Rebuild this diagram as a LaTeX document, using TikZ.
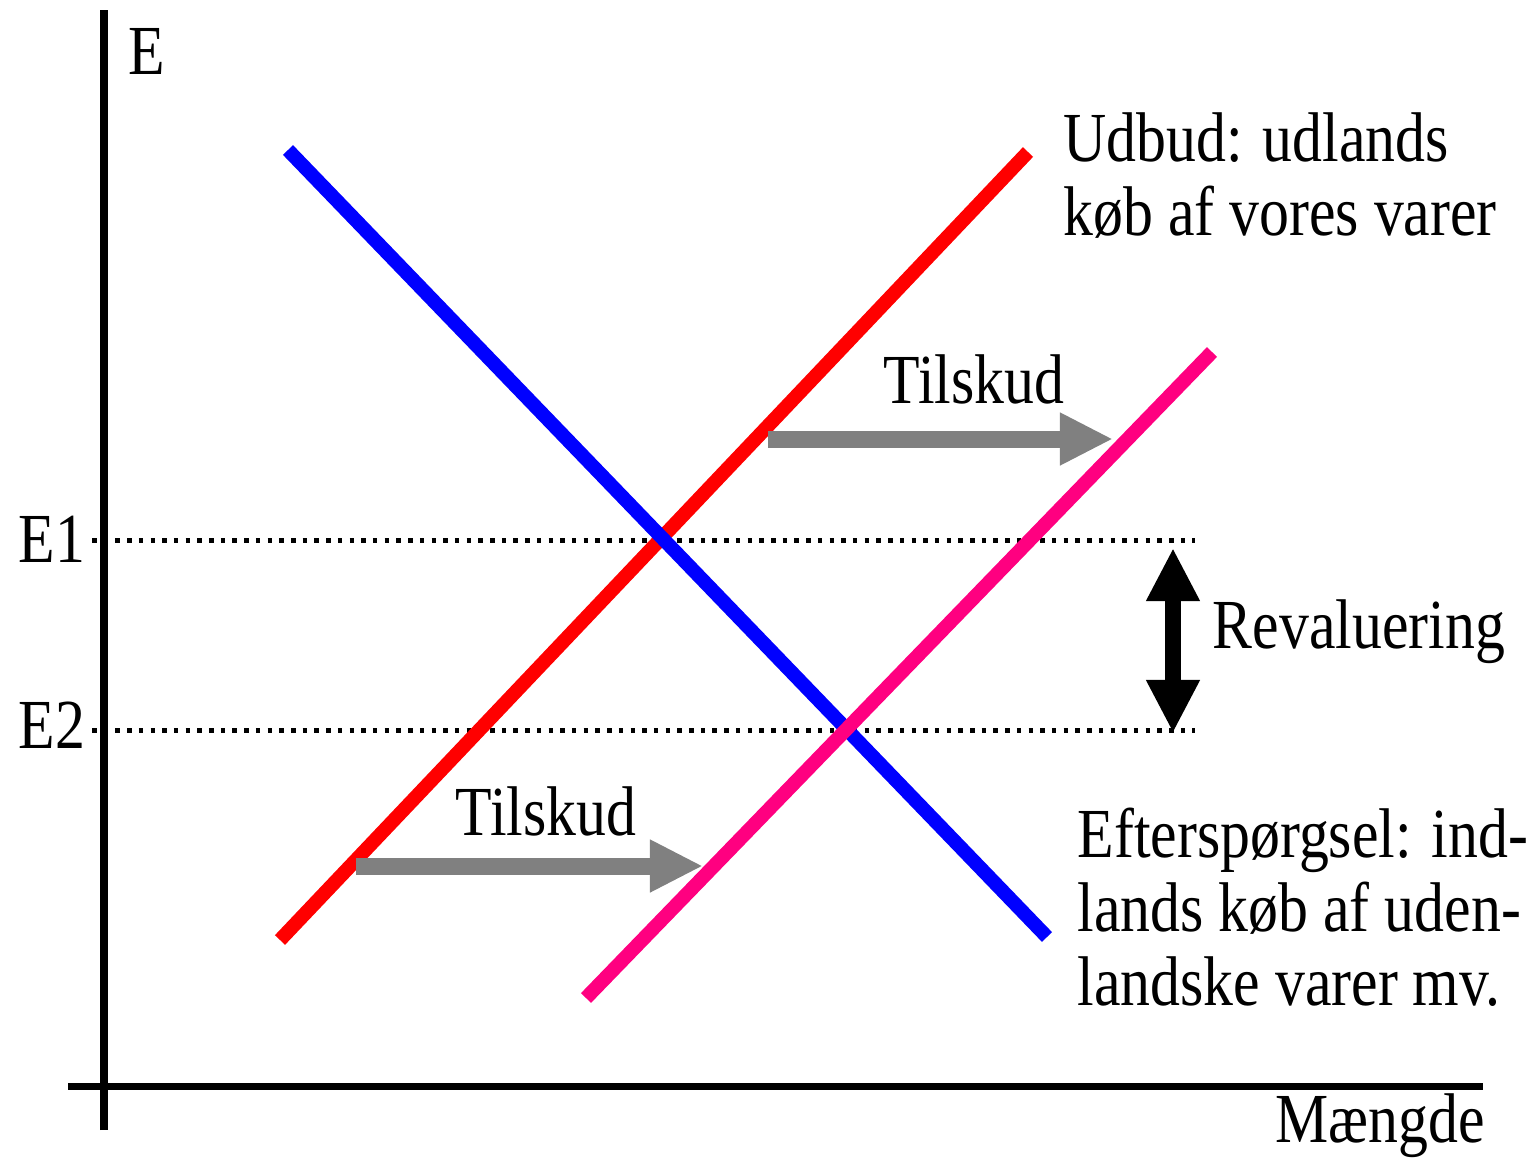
\documentclass[tikz,border=0pt]{standalone}
\usepackage{fontspec}
\setmainfont{Liberation Serif}[FakeStretch=0.85]
\usetikzlibrary{arrows.meta}
\definecolor{supred}{RGB}{255,0,0}
\definecolor{demblue}{RGB}{0,0,255}
\definecolor{newpink}{RGB}{255,0,128}
\definecolor{shiftgray}{RGB}{128,128,128}
\begin{document}
\begin{tikzpicture}[x=0.01cm,y=-0.01cm,
  lbl/.style={inner sep=0pt,anchor=base west,font=\fontsize{20}{21}\selectfont,align=left},
  axisline/.style={line width=0.07cm,black},
  curveline/.style={line width=0.14cm,line cap=butt},
  levelline/.style={line width=0.05cm,dash pattern=on 0.045cm off 0.072cm},
  shiftarrow/.style={shiftgray,line width=0.17cm,-{Triangle[length=0.53cm,width=0.49cm]}},
  revalarrow/.style={black,line width=0.16cm,{Triangle[length=0.53cm,width=0.5cm]}-{Triangle[length=0.53cm,width=0.5cm]}}
]
\useasboundingbox (0,0) rectangle (1535,1166);
% axes
\coordinate (ytop) at (104,10);
\coordinate (ybot) at (104,1130);
\coordinate (xl) at (68,1086);
\coordinate (xr) at (1483,1086);
\draw[axisline] (ybot) -- (ytop);
\draw[axisline] (xl) -- (xr);
% level lines
\coordinate (e1a) at (92,540);
\coordinate (e1b) at (1195,540);
\coordinate (e2a) at (92,730);
\coordinate (e2b) at (1195,730);
\draw[levelline] (e1a) -- (e1b);
\draw[levelline] (e2a) -- (e2b);
% curves
\coordinate (s1a) at (280,940);
\coordinate (s1b) at (1028,152);
\coordinate (s2a) at (586,998);
\coordinate (s2b) at (1212,352);
\coordinate (da) at (288,150);
\coordinate (db) at (1047,937);
\draw[curveline,supred] (s1a) -- (s1b);
\draw[curveline,demblue] (da) -- (db);
\draw[curveline,newpink] (s2a) -- (s2b);
% shift arrows
\coordinate (t1a) at (768,439);
\coordinate (t1b) at (1113,439);
\coordinate (t2a) at (356,866);
\coordinate (t2b) at (703,866);
\draw[shiftarrow] (t1a) -- (t1b);
\draw[shiftarrow] (t2a) -- (t2b);
% revaluation arrow
\coordinate (ra) at (1173,548);
\coordinate (rb) at (1173,733);
\draw[revalarrow] (ra) -- (rb);
% labels
\node[lbl] (lE) at (128,74) {E};
\node[lbl] (lE1) at (18,562) {E1};
\node[lbl] (lE2) at (18,748) {E2};
\node[lbl] (lsup) at (1063,235) {Udbud: udlands\\køb af vores varer};
\node[lbl] (ltil1) at (883,403) {Tilskud};
\node[lbl] (ltil2) at (455,835) {Tilskud};
\node[lbl] (lrev) at (1212,648) {Revaluering};
\node[lbl] (ldem) at (1077,1005) {Efterspørgsel: ind-\\lands køb af uden-\\landske varer mv.};
\node[lbl] (lq) at (1275,1142) {Mængde};
\end{tikzpicture}
\end{document}
